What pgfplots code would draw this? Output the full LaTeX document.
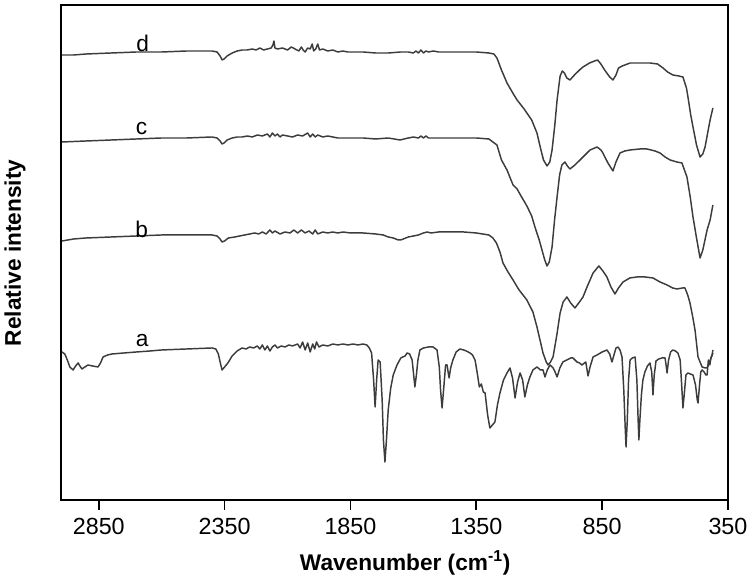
\documentclass[border=0pt]{standalone}
\usepackage{fontspec}
\setmainfont{Liberation Sans}
\usepackage{pgfplots}
\pgfplotsset{compat=1.18}
\usepackage{pgfplotstable}
\definecolor{curve}{HTML}{3C3C3C}

\pgfplotstableread{
w y
2996 445
2950 445
2900 446
2800 447
2700 448
2600 448
2500 449
2400 449
2380 448
2368 444
2360 440
2352 441
2340 444
2320 447
2300 449
2280 450
2260 450
2240 451
2225 450
2210 452
2195 450
2180 451
2165 452
2158 455
2154 459
2150 452
2140 451
2120 452
2100 450
2085 453
2070 451
2055 449
2045 453
2038 450
2030 448
2020 452
2010 451
2002 456
1996 449
1988 451
1980 456
1973 450
1960 451
1940 449
1920 450
1900 448
1880 449
1860 448
1840 448
1800 448
1750 447
1700 447
1650 448
1620 448
1600 447
1590 449
1580 447
1570 450
1560 447
1550 449
1540 448
1520 449
1500 448
1450 448
1400 448
1350 448
1300 447
1280 446
1268 442
1250 430
1228 417
1205 407
1188 400
1160 391
1130 380
1109 367
1095 352
1083 340
1069 334
1058 338
1049 350
1038 375
1029 400
1017 424
1008 429
1000 427
990 422
978 420
960 425
940 430
926 433
900 437
880 439
868 440
855 436
840 430
820 423
807 420
795 425
785 432
770 434
739 437
700 437
660 437
630 436
608 432
590 428
569 425
545 424
529 423
515 412
509 403
498 385
489 373
475 355
461 343
450 346
441 353
430 368
421 380
410 392
}\curveD

\pgfplotstableread{
w y
2996 358
2900 359
2800 360
2700 361
2600 362
2500 362
2400 363
2380 362
2368 359
2360 356
2352 357
2340 360
2320 362
2300 363
2280 363
2260 364
2240 363
2220 365
2200 364
2180 366
2170 363
2160 367
2150 364
2140 366
2130 363
2120 365
2100 364
2080 363
2060 365
2040 364
2020 367
2010 363
2000 366
1990 363
1980 365
1960 363
1940 364
1900 362
1850 362
1800 362
1750 361
1700 362
1653 360
1620 362
1600 363
1580 362
1570 364
1560 362
1550 364
1540 362
1500 362
1450 362
1400 362
1350 362
1300 361
1284 358
1268 355
1250 340
1228 330
1204 315
1188 311
1170 303
1149 294
1130 284
1117 273
1100 260
1089 250
1078 240
1069 234
1060 238
1049 253
1039 280
1029 303
1019 325
1010 335
998 338
988 334
978 331
958 335
938 340
918 345
898 350
870 353
855 350
847 347
827 337
807 329
795 338
779 347
760 349
739 350
700 351
672 351
640 349
620 347
600 343
580 340
553 338
533 337
513 323
500 303
489 283
475 262
461 242
450 250
433 270
421 280
410 295
}\curveC

\pgfplotstableread{
w y
2996 259
2950 261
2900 262
2800 263
2700 264
2600 265
2500 265
2400 265
2380 264
2368 261
2360 258
2350 259
2335 262
2309 263
2290 264
2270 265
2250 266
2230 267
2215 266
2200 268
2185 266
2170 270
2160 267
2150 269
2130 266
2110 268
2090 267
2075 270
2060 267
2045 270
2030 267
2015 269
2000 266
1990 270
1980 266
1960 268
1940 267
1920 268
1900 267
1880 268
1850 267
1800 267
1750 266
1720 265
1700 263
1680 262
1660 260
1650 260
1640 261
1620 263
1600 264
1580 265
1560 267
1545 268
1530 267
1500 268
1450 268
1400 268
1350 267
1300 265
1284 262
1270 257
1256 248
1244 237
1224 228
1204 220
1180 210
1149 200
1125 188
1109 173
1095 158
1085 147
1072 138
1065 135
1055 138
1045 143
1030 165
1017 187
1005 198
990 203
975 197
958 192
940 198
926 203
910 213
886 227
863 234
847 229
831 223
815 213
799 206
785 212
767 218
740 222
712 223
680 223
648 222
620 218
592 215
570 212
553 211
530 212
521 212
510 205
501 197
490 183
481 170
469 143
453 133
440 132
433 132
420 140
410 147
}\curveB

\pgfplotstableread{
w y
2996 148
2985 146
2975 140
2965 133
2952 130
2942 134
2932 137
2925 134
2917 131
2905 133
2893 135
2875 134
2853 133
2843 137
2833 143
2815 145
2797 146
2750 147
2700 148
2646 149
2600 150
2500 151
2400 152
2385 151
2375 146
2366 136
2360 130
2350 133
2337 137
2320 144
2300 149
2281 152
2265 151
2250 153
2235 152
2220 154
2210 151
2200 155
2190 150
2180 154
2170 149
2160 153
2150 155
2140 152
2125 154
2110 153
2095 155
2080 154
2060 156
2050 152
2040 158
2030 150
2020 157
2010 148
2000 156
1992 151
1985 158
1975 153
1960 155
1940 154
1920 156
1900 155
1880 156
1860 155
1840 156
1820 155
1800 156
1785 155
1775 152
1766 147
1758 120
1752 93
1746 120
1740 140
1732 138
1724 100
1719 60
1713 38
1707 60
1700 90
1690 112
1680 125
1665 135
1650 142
1633 144
1625 147
1615 146
1605 140
1598 123
1594 113
1588 125
1582 140
1574 150
1560 152
1540 153
1522 153
1506 150
1497 133
1492 110
1486 92
1480 110
1472 135
1466 135
1462 128
1458 122
1452 132
1443 140
1430 148
1415 151
1400 150
1390 149
1375 147
1365 145
1355 140
1345 125
1338 113
1330 116
1322 108
1315 107
1305 85
1296 72
1286 75
1276 78
1266 95
1256 107
1242 120
1228 127
1216 132
1206 122
1196 102
1186 118
1176 127
1166 120
1157 103
1147 115
1137 123
1125 130
1109 133
1095 130
1085 130
1077 123
1068 130
1057 135
1045 132
1037 128
1029 123
1018 132
1006 138
990 140
975 142
966 142
950 138
940 137
930 135
915 138
906 124
898 133
886 143
870 145
850 148
831 150
820 146
811 138
803 145
795 152
787 153
779 150
771 143
764 110
758 70
755 53
750 80
745 120
739 140
730 142
719 143
712 120
707 80
704 60
700 80
694 105
688 120
680 128
670 134
660 137
653 128
648 105
643 125
636 139
625 141
612 142
600 142
596 135
592 127
586 140
578 148
569 150
559 149
549 147
540 140
534 115
529 92
524 105
517 125
509 127
500 126
489 125
479 115
472 100
469 97
463 115
458 128
453 130
445 128
438 125
433 125
428 140
422 135
418 142
413 145
410 150
}\curveA

\begin{document}
\begin{tikzpicture}
\begin{axis}[
  scale only axis,
  width=500.25pt, height=371.25pt,
  xmin=350, xmax=3000, x dir=reverse,
  ymin=0, ymax=495,
  xtick={2850,2350,1850,1350,850,350},
  ytick=\empty,
  xtick pos=bottom,
  tick align=outside,
  major tick length=7.5pt,
  tick style={line width=1.3pt, black},
  axis line style={line width=2pt},
  /pgf/number format/assume math mode=true,
  /pgf/number format/1000 sep={},
  xticklabel style={font=\fontsize{17.5}{19}\selectfont, yshift=-2.5pt},
  xlabel={Wavenumber (cm\textsuperscript{-1})},
  ylabel={Relative intensity},
  every axis x label/.style={at={(axis description cs:0.516,-0.127)}, anchor=center, font=\fontsize{17}{19}\selectfont\bfseries},
  every axis y label/.style={at={(axis description cs:-0.069,0.499)}, rotate=90, anchor=center, font=\fontsize{17}{19}\selectfont\bfseries},
  spec/.style={curve, line width=1.1pt, line join=round, mark=none},
]
\addplot[spec] table[x=w,y=y] {\curveD};
\addplot[spec] table[x=w,y=y] {\curveC};
\addplot[spec] table[x=w,y=y] {\curveB};
\addplot[spec] table[x=w,y=y] {\curveA};
\node[font=\fontsize{17}{18}\selectfont] at (axis cs:2676,457) {d};
\node[font=\fontsize{17}{18}\selectfont] at (axis cs:2680,371) {c};
\node[font=\fontsize{17}{18}\selectfont] at (axis cs:2680,271) {b};
\node[font=\fontsize{17}{18}\selectfont] at (axis cs:2678,159) {a};
\coordinate (bbsw) at (axis description cs:-0.0915,-0.1596);
\coordinate (bbne) at (axis description cs:1.033,1.0101);
\end{axis}
\pgfresetboundingbox
\path[use as bounding box] (bbsw) rectangle (bbne);
\end{tikzpicture}
\end{document}
